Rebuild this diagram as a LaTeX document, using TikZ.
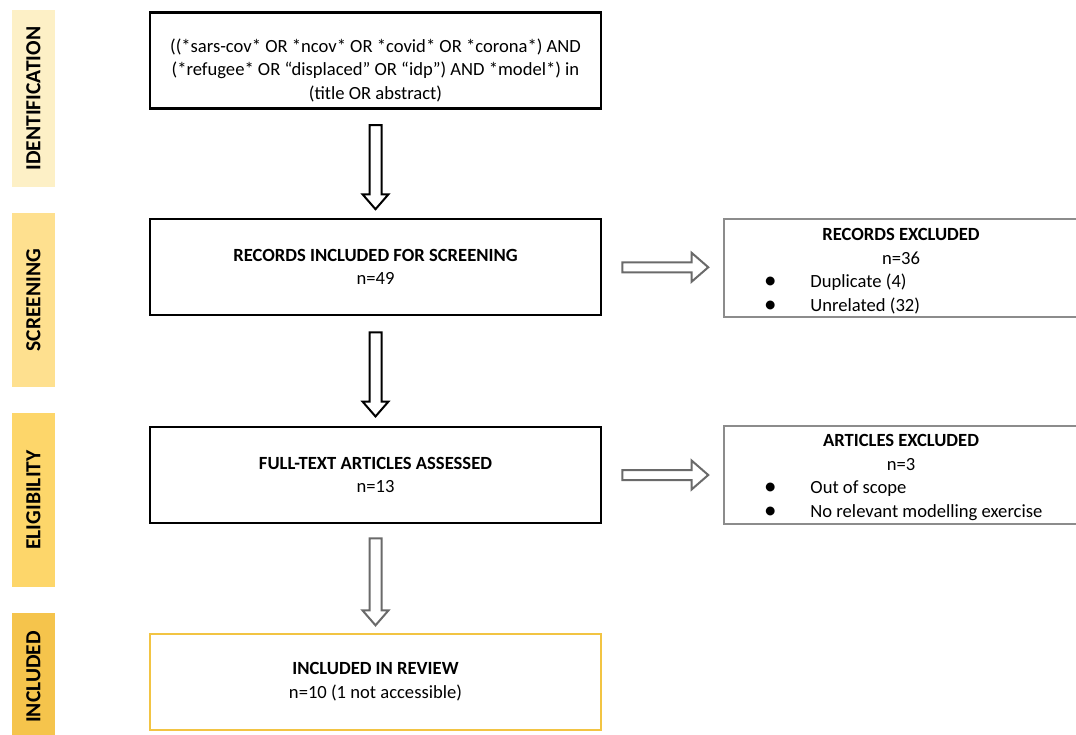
\documentclass[tikz,border=0pt]{standalone}
\usepackage{fontspec}
\setmainfont{Carlito}
\usepackage{tikz}
\usetikzlibrary{shapes.arrows,calc}
\definecolor{stagea}{HTML}{FDF0C6}
\definecolor{stageb}{HTML}{FEE08F}
\definecolor{stagec}{HTML}{FDD66A}
\definecolor{staged}{HTML}{F5C44C}
\definecolor{inclline}{HTML}{F2C443}
\definecolor{exclline}{HTML}{8C8C8C}
\definecolor{arrgray}{HTML}{6A6A6A}
\newcommand{\bulletrow}[1]{\makebox[274pt][l]{\raisebox{-1pt}{\fontsize{25}{23}\selectfont\textbullet}\hspace{34pt}#1}}

\begin{document}
\begin{tikzpicture}[x=1pt,y=-1pt,
  every node/.style={font=\fontsize{18.6}{23.5}\selectfont},
  stage/.style={rotate=90,minimum height=43pt,inner sep=0pt,
    font=\fontsize{21.5}{22}\selectfont\bfseries},
  mainbox/.style={draw=black,line width=2.5pt,minimum width=451pt,
    minimum height=96pt,align=center,inner sep=0pt},
  sidebox/.style={draw=exclline,line width=2pt,minimum width=355pt,
    minimum height=98pt,inner sep=0pt},
  downarrow/.style={single arrow,draw,line width=2pt,fill=white,
    minimum width=0pt,inner sep=5pt,single arrow head extend=7pt,
    single arrow tip angle=82,single arrow head indent=0pt,
    shape border rotate=270,minimum height=84pt},
  rightarrow/.style={single arrow,draw=arrgray,line width=2pt,fill=white,
    minimum width=0pt,inner sep=4pt,single arrow head extend=9.5pt,
    single arrow tip angle=82,single arrow head indent=0pt,
    minimum height=86pt}]
\useasboundingbox (0,0) rectangle (1076,734);
%% stage bars on the left
\foreach \name/\y/\len/\col/\lab in {ident/98.5/177/stagea/IDENTIFICATION,
    screen/300/174/stageb/SCREENING, elig/500/174/stagec/ELIGIBILITY,
    incl/677/128/staged/INCLUDED}{
  \node[stage,fill=\col,minimum width=\len] (\name) at (33.5,\y) {\lab};
}
%% main column
\node[mainbox] (search) at (375.5,60.5) {};
\node[align=center] (searchtxt) at (375.5,70) {((*sars-cov* OR *ncov* OR *covid* OR *corona*) AND\\
  (*refugee* OR “displaced” OR “idp”) AND *model*) in\\
  (title OR abstract)};
\node[mainbox] (records) at (375.5,267) {\textbf{RECORDS INCLUDED FOR SCREENING}\\n=49};
\node[mainbox] (fulltext) at (375.5,475) {\textbf{FULL-TEXT ARTICLES ASSESSED}\\n=13};
\node[mainbox,draw=inclline,line width=2pt] (review) at (375.5,681.5)
  {\textbf{INCLUDED IN REVIEW}\\n=10 (1 not accessible)};
%% exclusion boxes
\node[sidebox] (recex) at (901,267.5) {};
\node[align=center] (recextxt) at (901,271) {\textbf{RECORDS EXCLUDED}\\n=36\\
  \bulletrow{Duplicate (4)}\\\bulletrow{Unrelated (32)}};
\node[sidebox] (artex) at (901,475) {};
\node[align=center] (artextxt) at (901,477.5) {\textbf{ARTICLES EXCLUDED}\\n=3\\
  \bulletrow{Out of scope}\\\bulletrow{No relevant modelling exercise}};
%% block arrows
\node[downarrow] (a1) at ($(search.south)!0.5!(records.north)$) {};
\node[downarrow] (a2) at ($(records.south)!0.5!(fulltext.north)$) {};
\node[downarrow,draw=arrgray,minimum height=87pt] (a3) at ($(fulltext.south)!0.5!(review.north)$) {};
\node[rightarrow] (a4) at ($(records.east)!0.5!(recex.west)$) {};
\node[rightarrow] (a5) at ($(fulltext.east)!0.5!(artex.west)$) {};
\end{tikzpicture}
\end{document}
